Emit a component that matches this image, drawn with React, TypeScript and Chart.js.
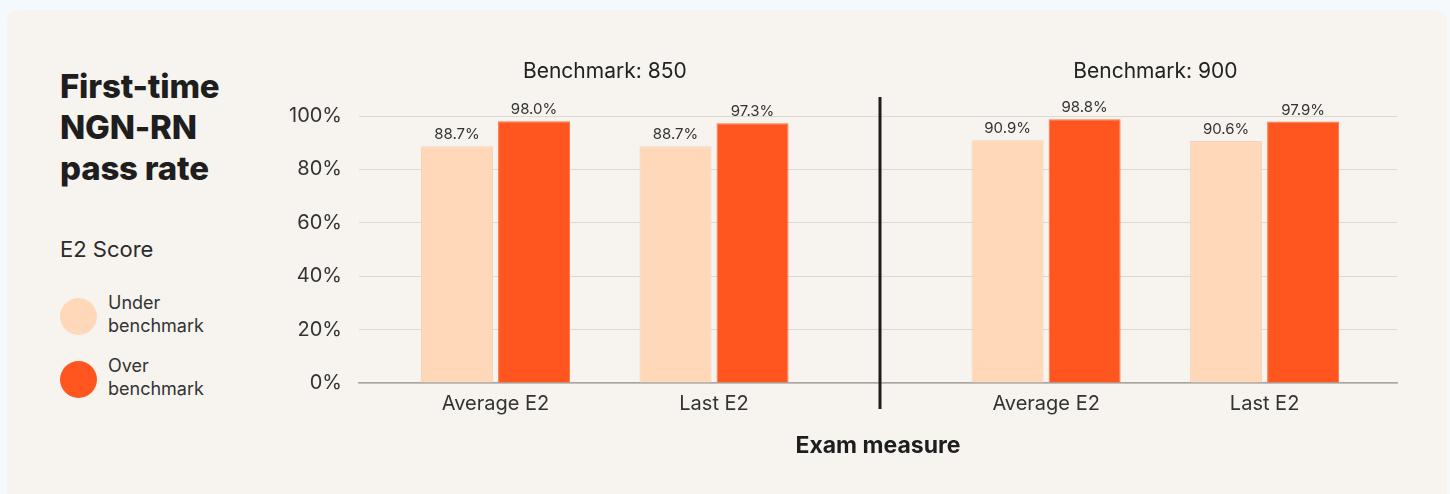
import React, { useEffect, useRef } from "react";
import { Chart, registerables } from "chart.js";

Chart.register(...registerables);

const categories = ["Average E2", "Last E2", "Average E2", "Last E2"];
const groupLabels = ["Benchmark: 850", "Benchmark: 900"];
const underBenchmark = [88.7, 88.7, 90.9, 90.6];
const overBenchmark = [98.0, 97.3, 98.8, 97.9];
const yTicks = [0, 20, 40, 60, 80, 100];
const seriesNames = ["Under benchmark", "Over benchmark"];

const COLORS = { under: "#FED8B8", over: "#FF561F" };
const FONT = "Inter, 'Noto Sans', sans-serif";
const GROUP_GAP = 0.52; // extra spacing between benchmark groups, in category units
const PER_GROUP = 2;

const xPos = (i: number) => i + Math.floor(i / PER_GROUP) * GROUP_GAP;

const annotationsPlugin = {
  id: "annotations",
  afterDatasetsDraw(chart: any) {
    const ctx = chart.ctx;
    const xs = chart.scales.x;
    const area = chart.chartArea;
    ctx.save();
    // value labels
    ctx.font = `15px ${FONT}`;
    ctx.fillStyle = "#333";
    ctx.textAlign = "center";
    ctx.textBaseline = "bottom";
    chart.data.datasets.forEach((ds: any, di: number) => {
      const meta = chart.getDatasetMeta(di);
      meta.data.forEach((bar: any, i: number) => {
        const v = ds.data[i].y;
        ctx.fillText(v.toFixed(1) + "%", bar.x, bar.y - 4);
      });
    });
    // group labels
    ctx.font = `21px ${FONT}`;
    ctx.fillStyle = "#222";
    ctx.textBaseline = "middle";
    groupLabels.forEach((g, gi) => {
      const a = xPos(gi * PER_GROUP);
      const b = xPos(gi * PER_GROUP + PER_GROUP - 1);
      ctx.fillText(g, xs.getPixelForValue((a + b) / 2), area.top - 44);
    });
    // divider between groups
    for (let gi = 1; gi < groupLabels.length; gi++) {
      const a = xPos(gi * PER_GROUP - 1);
      const b = xPos(gi * PER_GROUP);
      const px = Math.round(xs.getPixelForValue((a + b) / 2));
      ctx.strokeStyle = "#1d1d1d";
      ctx.lineWidth = 3;
      ctx.beginPath();
      ctx.moveTo(px, area.top - 19);
      ctx.lineTo(px, area.bottom + 26);
      ctx.stroke();
    }
    ctx.restore();
  },
};

function ChartView() {
  const ref = useRef<HTMLCanvasElement | null>(null);
  useEffect(() => {
    if (!ref.current) return;
    const positions = categories.map((_, i) => xPos(i));
    const chart = new Chart(ref.current, {
      type: "bar",
      data: {
        datasets: [
          {
            label: seriesNames[0],
            data: underBenchmark.map((v, i) => ({ x: positions[i], y: v })),
            backgroundColor: COLORS.under,
            borderColor: "#F3D3B8",
            borderWidth: 1,
          },
          {
            label: seriesNames[1],
            data: overBenchmark.map((v, i) => ({ x: positions[i], y: v })),
            backgroundColor: COLORS.over,
            borderColor: "#F7764A",
            borderWidth: 1,
          },
        ],
      },
      options: {
        animation: false,
        responsive: false,
        maintainAspectRatio: false,
        categoryPercentage: 0.705,
        barPercentage: 0.935,
        layout: { padding: { left: 0, right: 50, top: 106, bottom: 0 } },
        plugins: {
          legend: { display: false },
          tooltip: { enabled: false },
        },
        scales: {
          x: {
            type: "linear",
            bounds: "data",
            offset: false,
            min: -0.625,
            max: 4.126,
            afterBuildTicks: (s: any) => {
              s.ticks = positions.map((p) => ({ value: p }));
            },
            afterFit: (s: any) => {
              s.height = 111;
            },
            grid: { display: false, offset: false, drawTicks: false },
            border: { display: true, color: "#A9A6A2", width: 1.5 },
            ticks: {
              autoSkip: false,
              maxRotation: 0,
              padding: 9,
              color: "#333",
              font: { family: FONT, size: 20 },
              callback: (_v: any, i: number) => categories[i],
            },
            title: {
              display: true,
              text: "Exam measure",
              color: "#1e1e1e",
              font: { family: FONT, size: 23, weight: "bold" },
              padding: { top: 0, bottom: 34 },
            },
          },
          y: {
            min: 0,
            max: 100,
            afterBuildTicks: (s: any) => {
              s.ticks = yTicks.map((v) => ({ value: v }));
            },
            afterFit: (s: any) => {
              s.width = 89;
            },
            grid: { color: "#DCD8D3", lineWidth: 1, drawTicks: false },
            border: { display: false },
            ticks: {
              padding: 17,
              color: "#333",
              font: { family: FONT, size: 20 },
              callback: (v: any) => v + "%",
            },
          },
        },
      },
      plugins: [annotationsPlugin],
    } as any);
    return () => chart.destroy();
  }, []);
  return (
    <canvas
      ref={ref}
      width={1177}
      height={484}
      style={{ position: "absolute", left: 263, top: 0, display: "block" }}
    />
  );
}

export default function App() {
  return (
    <div
      style={{
        position: "relative",
        width: 1450,
        height: 494,
        background: "#F3F9FD",
        overflow: "hidden",
        fontFamily: FONT,
      }}
    >
      <style>{"body{margin:0;background:#F3F9FD}"}</style>
      <div
        style={{
          position: "absolute",
          left: 7,
          top: 10,
          width: 1440,
          height: 500,
          borderRadius: 12,
          background: "#F7F4EF",
        }}
      >
        <div
          style={{
            position: "absolute",
            left: 53,
            top: 56,
            fontSize: 33,
            lineHeight: "41px",
            fontWeight: 800,
            color: "#1e1e1e",
            letterSpacing: "-0.2px",
          }}
        >
          First-time
          <br />
          NGN-RN
          <br />
          pass rate
        </div>
        <div
          style={{
            position: "absolute",
            left: 53,
            top: 228,
            fontSize: 22,
            lineHeight: "22px",
            color: "#2b2b2b",
          }}
        >
          E2 Score
        </div>
        {seriesNames.map((name, i) => {
          const words = name.split(" ");
          return (
            <div
              key={name}
              style={{ position: "absolute", left: 53, top: 285 + i * 63, display: "flex", alignItems: "center" }}
            >
              <div
                style={{
                  width: 37,
                  height: 37,
                  borderRadius: "50%",
                  background: i === 0 ? COLORS.under : COLORS.over,
                  marginRight: 11,
                }}
              />
              <div style={{ fontSize: 18, lineHeight: "23px", color: "#333", marginTop: -4 }}>
                {words[0]}
                <br />
                {words.slice(1).join(" ")}
              </div>
            </div>
          );
        })}
        <ChartView />
      </div>
    </div>
  );
}
